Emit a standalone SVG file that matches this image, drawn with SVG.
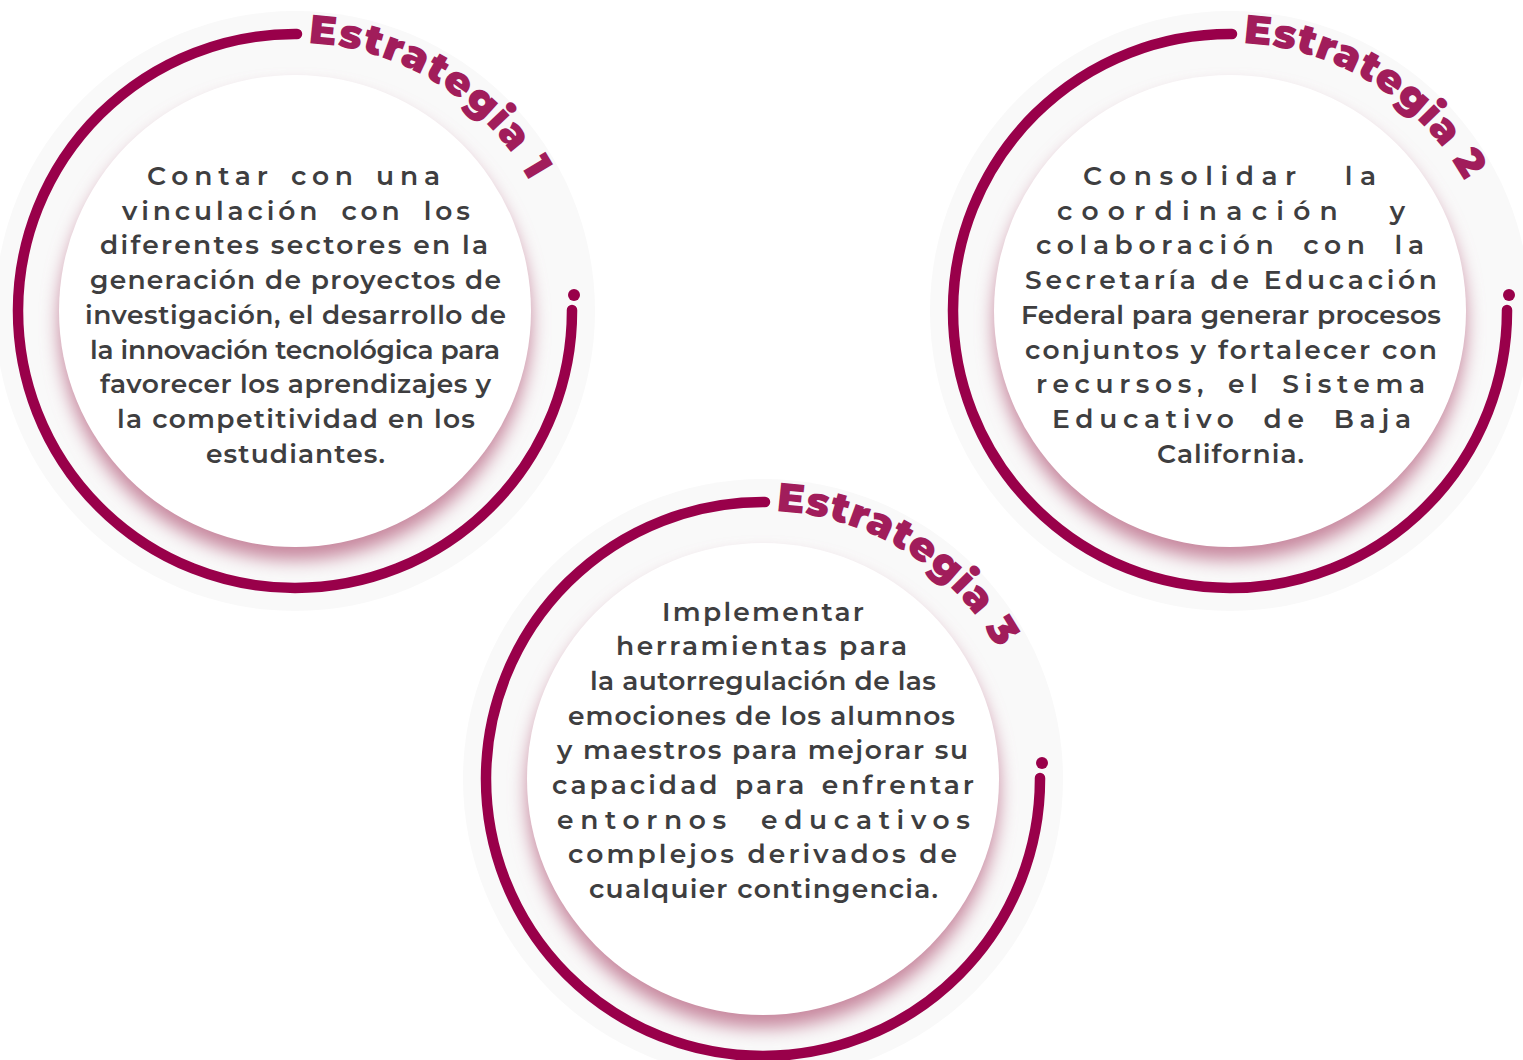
<svg xmlns="http://www.w3.org/2000/svg" width="1523" height="1060" viewBox="0 0 1523 1060">
<style>
.halo{fill:#f9f9f9}
.shadow{fill:#c7879e;filter:url(#blur)}
.disc{fill:#fff}
.arc{fill:none;stroke:#99004a;stroke-width:10.5;stroke-linecap:round}
.dot{fill:#99004a}
.title{font-family:Montserrat,Inter,"Noto Sans",sans-serif;font-weight:900;font-size:41px;fill:#a11d5b}
.body{font-family:Montserrat,Inter,"Noto Sans",sans-serif;font-weight:600;font-size:26.5px;fill:#3e3e40}
</style>
<defs>
<filter id="blur" x="-20%" y="-20%" width="140%" height="140%"><feGaussianBlur stdDeviation="9"/></filter>
<path id="tp" d="M13.1,-267.7 A268,268 0 0 1 268,0"/>
</defs>
<rect width="1523" height="1060" fill="#fff"/>

<g id="estrategia-1">
<g transform="translate(295,311)">
<circle class="halo" r="300"/>
<circle class="shadow" cy="13" r="236"/>
<circle class="disc" r="236"/>
<path class="arc" d="M2,-277 A277,277 0 1 0 277,-1"/>
<circle class="dot" cx="279" cy="-16" r="6"/>
<text class="title"><textPath href="#tp" textLength="272" lengthAdjust="spacing">Estrategia 1</textPath></text>
</g>
<text class="body" x="147" y="185" textLength="293" lengthAdjust="spacing" style="word-spacing:4px">Contar con una</text>
<text class="body" x="122" y="219.7" textLength="348" lengthAdjust="spacing" style="word-spacing:9px">vinculación con los</text>
<text class="body" x="100" y="254.4" textLength="388" lengthAdjust="spacing">diferentes sectores en la</text>
<text class="body" x="90" y="289" textLength="411" lengthAdjust="spacing">generación de proyectos de</text>
<text class="body" x="85" y="323.8" textLength="421" lengthAdjust="spacing">investigación, el desarrollo de</text>
<text class="body" x="90" y="358.5" textLength="410" lengthAdjust="spacing">la innovación tecnológica para</text>
<text class="body" x="100" y="393" textLength="391" lengthAdjust="spacing">favorecer los aprendizajes y</text>
<text class="body" x="117" y="428" textLength="358" lengthAdjust="spacing">la competitividad en los</text>
<text class="body" x="206" y="462.6" textLength="179" lengthAdjust="spacing">estudiantes.</text>
</g>

<g id="estrategia-2">
<g transform="translate(1230,311)">
<circle class="halo" r="300"/>
<circle class="shadow" cy="13" r="236"/>
<circle class="disc" r="236"/>
<path class="arc" d="M2,-277 A277,277 0 1 0 277,-1"/>
<circle class="dot" cx="279" cy="-16" r="6"/>
<text class="title"><textPath href="#tp" textLength="272" lengthAdjust="spacing">Estrategia 2</textPath></text>
</g>
<text class="body" x="1083" y="185" textLength="293" lengthAdjust="spacing" style="word-spacing:26px">Consolidar la</text>
<text class="body" x="1057" y="219.7" textLength="348" lengthAdjust="spacing" style="word-spacing:26px">coordinación y</text>
<text class="body" x="1036" y="254.4" textLength="388" lengthAdjust="spacing" style="word-spacing:11px">colaboración con la</text>
<text class="body" x="1025" y="289" textLength="412" lengthAdjust="spacing">Secretaría de Educación</text>
<text class="body" x="1021" y="323.8" textLength="420" lengthAdjust="spacing">Federal para generar procesos</text>
<text class="body" x="1025" y="358.5" textLength="412" lengthAdjust="spacing">conjuntos y fortalecer con</text>
<text class="body" x="1036" y="393" textLength="389" lengthAdjust="spacing" style="word-spacing:6px">recursos, el Sistema</text>
<text class="body" x="1052" y="428" textLength="359" lengthAdjust="spacing" style="word-spacing:11px">Educativo de Baja</text>
<text class="body" x="1157" y="462.6" textLength="147" lengthAdjust="spacing">California.</text>
</g>

<g id="estrategia-3">
<g transform="translate(763,779)">
<circle class="halo" r="300"/>
<circle class="shadow" cy="13" r="236"/>
<circle class="disc" r="236"/>
<path class="arc" d="M2,-277 A277,277 0 1 0 277,-1"/>
<circle class="dot" cx="279" cy="-16" r="6"/>
<text class="title"><textPath href="#tp" textLength="272" lengthAdjust="spacing">Estrategia 3</textPath></text>
</g>
<text class="body" x="662" y="620.5" textLength="202" lengthAdjust="spacing">Implementar</text>
<text class="body" x="616" y="655.2" textLength="291" lengthAdjust="spacing">herramientas para</text>
<text class="body" x="590" y="689.9" textLength="346" lengthAdjust="spacing">la autorregulación de las</text>
<text class="body" x="568" y="724.6" textLength="387" lengthAdjust="spacing">emociones de los alumnos</text>
<text class="body" x="557" y="759.3" textLength="411" lengthAdjust="spacing">y maestros para mejorar su</text>
<text class="body" x="552" y="794" textLength="422" lengthAdjust="spacing" style="word-spacing:4px">capacidad para enfrentar</text>
<text class="body" x="557" y="828.7" textLength="413" lengthAdjust="spacing" style="word-spacing:14px">entornos educativos</text>
<text class="body" x="568" y="863.4" textLength="389" lengthAdjust="spacing">complejos derivados de</text>
<text class="body" x="589" y="898" textLength="349" lengthAdjust="spacing">cualquier contingencia.</text>
</g>
</svg>
